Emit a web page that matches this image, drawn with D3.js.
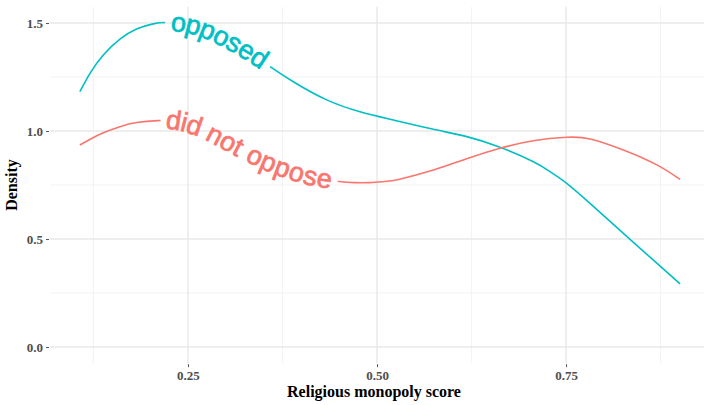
<!DOCTYPE html>
<html>
<head>
<meta charset="utf-8">
<script src="https://cdn.jsdelivr.net/npm/d3@7"></script>
<style>
  body { margin: 0; background: #ffffff; }
  svg { display: block; }
</style>
</head>
<body>
<svg id="chart" width="704" height="405"></svg>
<script>
// Density estimates of the religious monopoly score, by group
const opposedX = [0.107, 0.1204, 0.138, 0.16, 0.182, 0.204, 0.22, 0.24, 0.26, 0.28, 0.30, 0.32, 0.34, 0.3585,
  0.3893, 0.4335, 0.4775, 0.5216, 0.5745, 0.6187, 0.6627, 0.7068, 0.7288, 0.7509, 0.7817, 0.8258, 0.87, 0.9008];
const opposedY = [1.182, 1.267, 1.352, 1.425, 1.472, 1.496, 1.502, 1.497, 1.483, 1.458, 1.424, 1.385, 1.342, 1.298,
  1.228, 1.144, 1.089, 1.051, 1.008, 0.974, 0.925, 0.858, 0.812, 0.758, 0.665, 0.526, 0.388, 0.292];

const notOpposedX = [0.107, 0.12, 0.138, 0.16, 0.182, 0.21, 0.23, 0.25, 0.27, 0.29, 0.31, 0.33, 0.35, 0.37, 0.39,
  0.41, 0.43, 0.45, 0.47, 0.49, 0.51, 0.53, 0.5745, 0.6187, 0.6627, 0.7068, 0.7509, 0.7817, 0.8258, 0.87, 0.9008];
const notOpposedY = [0.935, 0.961, 0.992, 1.020, 1.039, 1.048, 1.045, 1.03, 1.005, 0.97, 0.932, 0.895, 0.862, 0.833, 0.808,
  0.788, 0.775, 0.766, 0.761, 0.761, 0.766, 0.777, 0.819, 0.872, 0.920, 0.955, 0.971, 0.963, 0.912, 0.843, 0.776];

const groupNames = ["opposed", "did not oppose"];

const yTicks = [0, 0.5, 1.0, 1.5];
const yTickLabels = ["0.0", "0.5", "1.0", "1.5"];
const yMinorTicks = [0.25, 0.75, 1.25];
const xTicks = [0.25, 0.50, 0.75];
const xTickLabels = ["0.25", "0.50", "0.75"];
const xMinorTicks = [0.125, 0.375, 0.625, 0.875];

const xTitle = "Religious monopoly score";
const yTitle = "Density";

// ---- layout ----
const svg = d3.select("#chart");
const panel = { left: 50, right: 709.5, top: 6.8, bottom: 363.2 };

const x = d3.scaleLinear().domain([0.0675, 0.9397]).range([panel.left, panel.right]);
const y = d3.scaleLinear().domain([-0.075, 1.575]).range([panel.bottom, panel.top]);

// ---- grid ----
const grid = svg.append("g");
grid.selectAll("line.ymin").data(yMinorTicks).join("line")
  .attr("x1", panel.left).attr("x2", panel.right)
  .attr("y1", d => y(d)).attr("y2", d => y(d))
  .attr("stroke", "#f0f0f0").attr("stroke-width", 0.8);
grid.selectAll("line.xmin").data(xMinorTicks).join("line")
  .attr("y1", panel.top).attr("y2", panel.bottom)
  .attr("x1", d => x(d)).attr("x2", d => x(d))
  .attr("stroke", "#f0f0f0").attr("stroke-width", 0.8);
grid.selectAll("line.ymaj").data(yTicks).join("line")
  .attr("x1", panel.left).attr("x2", panel.right)
  .attr("y1", d => y(d)).attr("y2", d => y(d))
  .attr("stroke", "#e8e8e8").attr("stroke-width", 1.4);
grid.selectAll("line.xmaj").data(xTicks).join("line")
  .attr("y1", panel.top).attr("y2", panel.bottom)
  .attr("x1", d => x(d)).attr("x2", d => x(d))
  .attr("stroke", "#e8e8e8").attr("stroke-width", 1.4);

// ---- axes ----
const tickFont = "'Liberation Serif', 'Times New Roman', serif";
const yAxis = svg.append("g")
  .attr("transform", `translate(${panel.left - 1},0)`)
  .call(d3.axisLeft(y).tickValues(yTicks).tickFormat((d, i) => yTickLabels[i]).tickSize(3).tickPadding(3));
const xAxis = svg.append("g")
  .attr("transform", `translate(0,${panel.bottom + 1})`)
  .call(d3.axisBottom(x).tickValues(xTicks).tickFormat((d, i) => xTickLabels[i]).tickSize(3).tickPadding(4));
[yAxis, xAxis].forEach(a => {
  a.select(".domain").remove();
  a.selectAll(".tick line").attr("stroke", "#555").attr("stroke-width", 1);
  a.selectAll(".tick text")
    .attr("fill", "#4d4d4d")
    .style("font-family", tickFont)
    .style("font-weight", "bold")
    .style("font-size", "13px");
});

svg.append("text")
  .attr("x", (panel.left + 704) / 2 - 3).attr("y", 397)
  .attr("text-anchor", "middle")
  .style("font-family", tickFont).style("font-weight", "bold").style("font-size", "16px")
  .attr("fill", "#000").text(xTitle);
svg.append("text")
  .attr("transform", `translate(17,${(panel.top + panel.bottom) / 2}) rotate(-90)`)
  .attr("text-anchor", "middle")
  .style("font-family", tickFont).style("font-weight", "bold").style("font-size", "16px")
  .attr("fill", "#000").text(yTitle);

// ---- labelled density curves ----
const line = d3.line()
  .x(d => x(d[0])).y(d => y(d[1]))
  .curve(d3.curveNatural);

const series = [
  { id: "curve-opposed", name: groupNames[0], xs: opposedX, ys: opposedY, color: "#00BFC4", gapFrom: 0.2196, gapTo: 0.3585 },
  { id: "curve-not-opposed", name: groupNames[1], xs: notOpposedX, ys: notOpposedY, color: "#F8766D", gapFrom: 0.2103, gapTo: 0.4511 }
];

const curves = svg.append("g");
series.forEach(s => {
  const pts = s.xs.map((v, i) => [v, s.ys[i]]);
  const path = curves.append("path")
    .attr("id", s.id)
    .attr("d", line(pts))
    .attr("fill", "none")
    .attr("stroke", s.color)
    .attr("stroke-width", 1.6);
  const node = path.node();
  const total = node.getTotalLength();
  const lengthAt = v => {
    const px = x(v);
    let lo = 0, hi = total;
    for (let k = 0; k < 40; k++) {
      const mid = (lo + hi) / 2;
      if (node.getPointAtLength(mid).x < px) lo = mid; else hi = mid;
    }
    return (lo + hi) / 2;
  };
  const centre = (lengthAt(s.gapFrom) + lengthAt(s.gapTo)) / 2;

  const label = curves.append("text")
    .attr("dy", "0.3em")
    .style("font-family", "'Liberation Sans', Arial, sans-serif")
    .style("font-size", "27px")
    .attr("fill", s.color)
    .attr("stroke", s.color)
    .attr("stroke-width", 0.7)
    .attr("stroke-linejoin", "round");
  label.append("textPath")
    .attr("href", "#" + s.id)
    .attr("startOffset", centre)
    .attr("text-anchor", "middle")
    .text(s.name);

  const half = label.node().getComputedTextLength() / 2 + 6;
  path.attr("stroke-dasharray", `${centre - half} ${2 * half} ${total}`);
});
</script>
</body>
</html>
